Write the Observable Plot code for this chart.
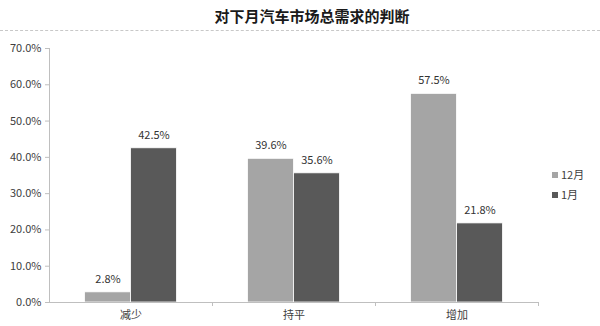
<!DOCTYPE html>
<html><head><meta charset="utf-8">
<script src="https://cdn.jsdelivr.net/npm/d3@7"></script>
<script src="https://cdn.jsdelivr.net/npm/@observablehq/plot@0.6"></script>
<style>
body{margin:0;background:#fff;font-family:"Noto Sans CJK SC","Microsoft YaHei",sans-serif;}
#wrap{position:relative;width:600px;height:326px;overflow:hidden;}
#title{height:31px;box-sizing:border-box;border-bottom:1px dashed #c8c8c8;text-align:center;font-weight:bold;font-size:15px;line-height:32px;color:#1a1a1a;padding-left:24px;}
#legend{position:absolute;left:552px;top:164px;font-size:11px;color:#404040;line-height:20px;}
#legend span.sw{display:inline-block;width:6px;height:6px;margin-right:3px;vertical-align:1px;}
</style></head>
<body><div id="wrap"><div id="title">对下月汽车市场总需求的判断</div><div id="chart"></div><div id="legend"></div></div>
<script>
const categories = ["减少", "持平", "增加"];
const seriesNames = ["12月", "1月"];
const dec = [2.8, 39.6, 57.5];
const jan = [42.5, 35.6, 21.8];
const yTicks = [0, 10, 20, 30, 40, 50, 60, 70];
const colors = ["#a5a5a5", "#595959"];

const data = [];
categories.forEach((c, i) => {
  data.push({cat: c, series: seriesNames[0], value: dec[i]});
  data.push({cat: c, series: seriesNames[1], value: jan[i]});
});

const W = 600, H = 295, mL = 49, mR = 62;
const band = (W - mL - mR) / categories.length;
const barW = 46, outer = (band - 2 * barW) / 2;
const inset = {
  "12月": {l: outer, r: band - outer - barW},
  "1月": {l: outer + barW, r: outer}
};
const fmt = v => v.toFixed(1) + "%";

const marks = [];
seriesNames.forEach((s, k) => {
  const d = data.filter(r => r.series === s);
  marks.push(Plot.barY(d, {x: "cat", y: "value", fill: colors[k], stroke: "#ffffff", strokeWidth: 0.8,
    insetLeft: inset[s].l, insetRight: inset[s].r}));
  const cx = (inset[s].l + (band - inset[s].r)) / 2 - band / 2;
  marks.push(Plot.text(d, {x: "cat", y: "value", text: d => fmt(d.value), dx: cx, dy: -13,
    fill: "#333", fontSize: 11}));
});

const chart = Plot.plot({
  width: W, height: H,
  marginLeft: mL, marginRight: mR, marginTop: 17, marginBottom: 24,
  style: {fontFamily: '"Noto Sans CJK SC", sans-serif', fontSize: "11px", color: "#404040", background: "#fff"},
  x: {domain: categories, padding: 0, label: null, tickSize: 0, tickPadding: 9},
  y: {domain: [0, 70], ticks: yTicks, tickFormat: fmt, label: null, tickSize: 4, tickPadding: 4},
  marks: [
    Plot.ruleX([0], {x: () => categories[0], dx: -band / 2, y1: 0, y2: 70, stroke: "#bfbfbf"}),
    ...marks,
    Plot.ruleY([0], {stroke: "#bfbfbf"}),
    Plot.ruleX(categories, {x: d => d, dx: band / 2, y1: 0, y2: 0, insetBottom: -4, stroke: "#bfbfbf"})
  ]
});
d3.select(chart).selectAll("[aria-label='y-axis tick']").attr("stroke", "#bfbfbf");
document.getElementById("chart").appendChild(chart);

const lg = document.getElementById("legend");
seriesNames.forEach((s, k) => {
  const div = document.createElement("div");
  div.innerHTML = `<span class="sw" style="background:${colors[k]}"></span>${s}`;
  lg.appendChild(div);
});
</script></body></html>
